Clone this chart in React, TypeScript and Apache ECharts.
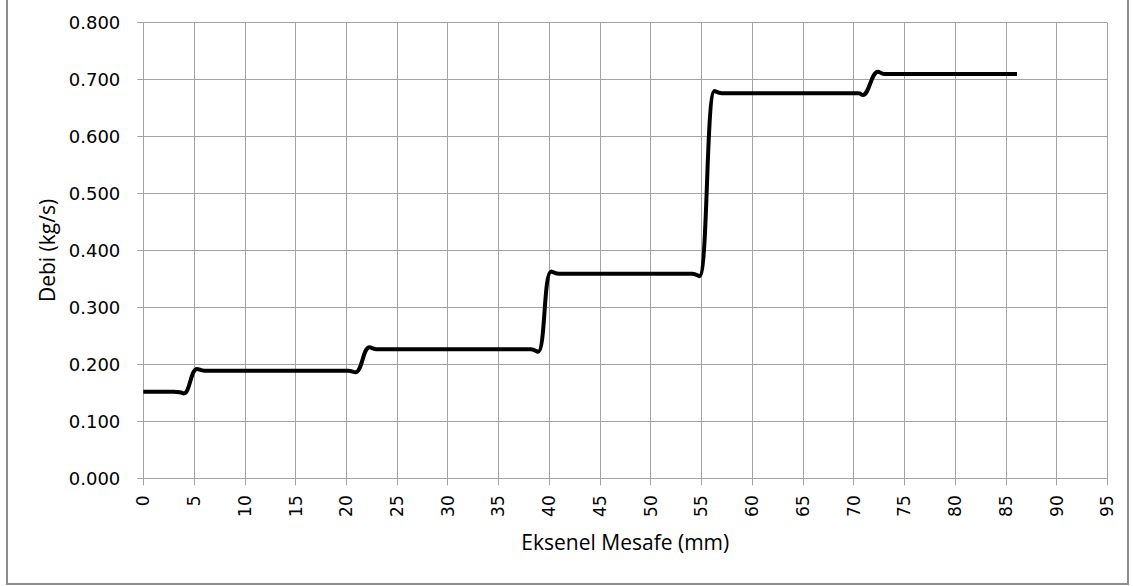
import React, { useEffect, useRef } from "react";
import * as echarts from "echarts";

// Axial distance (mm) and mass flow rate (kg/s)
const mesafe = [0, 3.0, 3.6, 4.0, 5.3, 6.0, 20.2, 20.9, 22.3, 23.0, 38.2, 38.9, 40.2, 41.0, 54.1, 54.8, 56.3, 57.0, 70.5, 70.9, 72.4, 73.0, 86.1];
const debi = [0.152, 0.152, 0.151, 0.149, 0.192, 0.189, 0.189, 0.186, 0.23, 0.2265, 0.2265, 0.222, 0.363, 0.359, 0.359, 0.355, 0.68, 0.676, 0.676, 0.673, 0.714, 0.71, 0.71];

const xTitle = "Eksenel Mesafe (mm)";
const yTitle = "Debi (kg/s)";

export default function App() {
  const ref = useRef<HTMLDivElement>(null);
  useEffect(() => {
    if (!ref.current) return;
    const chart = echarts.init(ref.current, null, { renderer: "svg" });
    const gridColor = "#a3a3a3";
    const tickFont = "'DejaVu Sans', Verdana, sans-serif";
    const titleFont = "'Open Sans', 'Noto Sans', sans-serif";
    chart.setOption({
      animation: false,
      backgroundColor: "#ffffff",
      grid: { left: 143.3, right: 25.7, top: 22.7, bottom: 107.7, containLabel: false },
      graphic: [
        {
          type: "rect",
          shape: { x: 7, y: -5, width: 1121, height: 589 },
          style: { fill: "none", stroke: "#8c8c8c", lineWidth: 2 },
          silent: true,
          z: 100,
        },
      ],
      xAxis: {
        type: "value",
        min: 0,
        max: 95,
        interval: 5,
        name: xTitle,
        nameLocation: "middle",
        nameGap: 53,
        nameTextStyle: { fontFamily: titleFont, fontSize: 21, color: "#000" },
        axisLine: { show: true, lineStyle: { color: gridColor, width: 1 } },
        axisTick: { show: true, length: 7, lineStyle: { color: gridColor } },
        axisLabel: {
          rotate: 90,
          margin: 17,
          fontFamily: tickFont,
          fontSize: 17,
          color: "#000",
        },
        splitLine: { show: true, lineStyle: { color: gridColor, width: 1 } },
      },
      yAxis: {
        type: "value",
        min: 0,
        max: 0.8,
        interval: 0.1,
        name: yTitle,
        nameLocation: "middle",
        nameGap: 82,
        nameRotate: 90,
        nameTextStyle: { fontFamily: titleFont, fontSize: 21, color: "#000" },
        axisLine: { show: true, lineStyle: { color: gridColor, width: 1 } },
        axisTick: { show: true, length: 6, lineStyle: { color: gridColor } },
        axisLabel: {
          margin: 23,
          fontFamily: tickFont,
          fontSize: 18,
          color: "#000",
          formatter: (v: number) => v.toFixed(3),
        },
        splitLine: { show: true, lineStyle: { color: gridColor, width: 1 } },
      },
      series: [
        {
          type: "line",
          data: mesafe.map((x, i) => [x, debi[i]]),
          smooth: 0.4,
          showSymbol: false,
          lineStyle: { color: "#000", width: 4 },
        },
      ],
    });
    return () => chart.dispose();
  }, []);
  return (
    <div
      ref={ref}
      style={{ position: "absolute", left: 0, top: 0, width: 1133, height: 586 }}
    />
  );
}
